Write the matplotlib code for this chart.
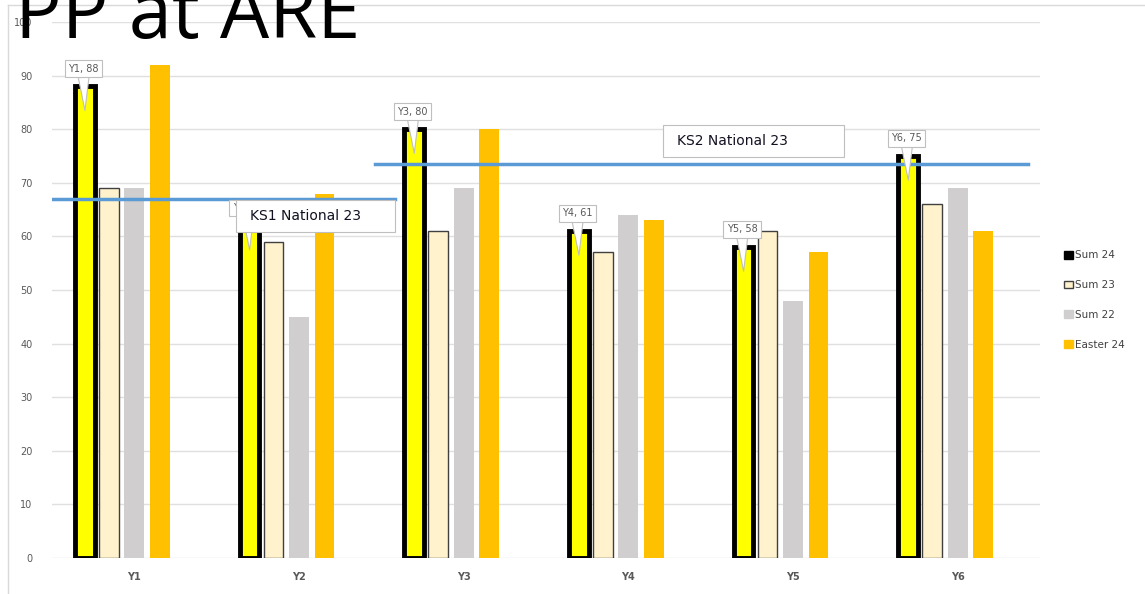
import matplotlib.pyplot as plt
from matplotlib.patches import Patch, Rectangle
from matplotlib.lines import Line2D

# data
years = ['Y1', 'Y2', 'Y3', 'Y4', 'Y5', 'Y6']
sum24 = [88, 62, 80, 61, 58, 75]
sum23 = [69, 59, 61, 57, 61, 66]
sum22 = [69, 45, 69, 64, 48, 69]
easter24 = [92, 68, 80, 63, 57, 61]
ks1_nat = 67
ks2_nat = 73.6

fig = plt.figure(figsize=(11.45, 5.94), dpi=100)
ax = fig.add_axes([52 / 1145, 1 - 558 / 594, (1040 - 52) / 1145, (558 - 22) / 594])

x = range(len(years))
step = 0.155
w = 0.12

ax.bar([i - 2 * step + 0.01 for i in x], sum24, width=0.12, color='#FFFF00',
       edgecolor='black', linewidth=3.5, zorder=3)
ax.bar([i - step for i in x], sum23, width=w, color='#FFF2CC',
       edgecolor='#404040', linewidth=1, zorder=3)
ax.bar([i for i in x], sum22, width=w, color='#D0CECE', zorder=3)
ax.bar([i + step for i in x], easter24, width=w, color='#FFC000', zorder=3)

# national lines
ax.plot([-0.5, 1.58], [ks1_nat, ks1_nat], color='#5B9BD5', lw=2.5, zorder=4)
ax.plot([1.46, 5.43], [ks2_nat, ks2_nat], color='#5B9BD5', lw=2.5, zorder=4)

# callouts for Sum 24
for i, v in enumerate(sum24):
    bx = i - 2 * step + 0.01
    ax.annotate(f'{years[i]}, {v}', xy=(bx, v - 4.5), xytext=(bx - 0.01, v + 3.3),
                ha='center', va='center', fontsize=7, color='#595959', zorder=6,
                bbox=dict(boxstyle='square,pad=0.35', fc='white', ec='#BFBFBF', lw=0.8),
                arrowprops=dict(arrowstyle='wedge,tail_width=1.1,shrink_factor=0.5',
                                fc='white', ec='#BFBFBF', lw=0.8, shrinkA=0, shrinkB=0))

# text boxes
ax.add_patch(Rectangle((0.62, 60.9), 0.96, 5.9, fc='white', ec='#BFBFBF', lw=0.8, zorder=8))
ax.text(0.70, 63.85, 'KS1 National 23', fontsize=10, va='center', color='#111122', zorder=9)
ax.add_patch(Rectangle((3.21, 74.9), 1.10, 5.8, fc='white', ec='#BFBFBF', lw=0.8, zorder=8))
ax.text(3.295, 77.8, 'KS2 National 23', fontsize=10, va='center', color='#111122', zorder=9)

ax.set_xlim(-0.5, 5.5)
ax.set_ylim(0, 100)
ax.set_yticks(range(0, 101, 10))
ax.set_xticks(list(x))
ax.set_xticklabels(years, fontsize=7, color='#595959', fontweight='bold')
ax.tick_params(axis='y', labelsize=7, labelcolor='#595959', length=0, pad=14)
ax.tick_params(axis='x', length=0, pad=10)
ax.grid(axis='y', color='#E0E0E0', lw=1, zorder=0)
for s in ax.spines.values():
    s.set_visible(False)

handles = [Patch(fc='black', ec='black'),
           Patch(fc='#FFF2CC', ec='#404040'),
           Patch(fc='#D0CECE', ec='#D0CECE'),
           Patch(fc='#FFC000', ec='#FFC000')]
fig.legend(handles, ['Sum 24', 'Sum 23', 'Sum 22', 'Easter 24'], loc='center left',
           bbox_to_anchor=(1055 / 1145, 1 - 300 / 594), frameon=False, fontsize=7.5,
           handlelength=0.8, handleheight=0.8, handletextpad=0.2, labelspacing=1.9,
           labelcolor='#404040')

# chart border
fig.add_artist(Line2D([8 / 1145, 8 / 1145], [0, 1 - 5 / 594], color='#D9D9D9', lw=1))
fig.add_artist(Line2D([8 / 1145, 1], [1 - 5 / 594, 1 - 5 / 594], color='#D9D9D9', lw=1))

fig.text(15 / 1145, 1 - 38 / 594, 'PP at ARE', fontsize=56, family='Open Sans',
         va='baseline', ha='left', color='black')

fig.savefig('out.png', dpi=100)
